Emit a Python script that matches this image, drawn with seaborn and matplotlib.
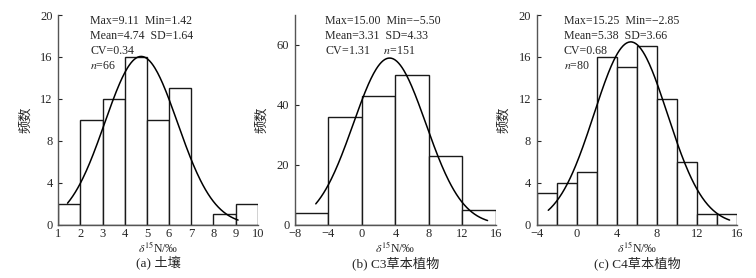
import matplotlib

matplotlib.use("Agg", force=True)
import matplotlib.pyplot as plt
import numpy as np
import pandas as pd
import seaborn as sns

# (a) soil
SOIL_EDGES = [1, 2, 3, 4, 5, 6, 7, 8, 9, 10]
SOIL_COUNTS = [2, 10, 12, 16, 10, 13, 0, 1, 2]
SOIL_STATS = {"max": 9.11, "min": 1.42, "mean": 4.74, "sd": 1.64, "cv": 0.34, "n": 66}

# (b) C3 herbs
C3_EDGES = [-8, -4, 0, 4, 8, 12, 16]
C3_COUNTS = [4, 36, 43, 50, 23, 5]
C3_STATS = {"max": 15.00, "min": -5.50, "mean": 3.31, "sd": 4.33, "cv": 1.31, "n": 151}

# (c) C4 herbs
C4_EDGES = [-4, -2, 0, 2, 4, 6, 8, 10, 12, 14, 16]
C4_COUNTS = [3, 4, 5, 16, 15, 17, 12, 6, 1, 1]
C4_STATS = {"max": 15.25, "min": -2.85, "mean": 5.38, "sd": 3.66, "cv": 0.68, "n": 80}

CAPTIONS = ["(a) 土壤", "(b) C3草本植物", "(c) C4草本植物"]
YTICKS = [[0, 4, 8, 12, 16, 20], [0, 20, 40, 60], [0, 4, 8, 12, 16, 20]]
YLIMS = [(0, 20), (0, 70), (0, 20)]
XTICKS = [list(range(1, 11)), [-8, -4, 0, 4, 8, 12, 16], [-4, 0, 4, 8, 12, 16]]

AX_POS = [
    [0.077, 0.191, 0.264, 0.755],
    [0.390, 0.191, 0.266, 0.755],
    [0.710, 0.191, 0.265, 0.755],
]
TEXT_X = [0.16, 0.15, 0.135]


def fmt(v: float) -> str:
    return f"{v:.2f}".replace("-", "\u2212")


def stat_lines(s: dict, compact: bool) -> list[str]:
    first = f"Max={fmt(s['max'])}  Min={fmt(s['min'])}"
    second = f"Mean={fmt(s['mean'])}  SD={fmt(s['sd'])}"
    if compact:
        return [first, second, f"CV={fmt(s['cv'])}     $n$={s['n']}"]
    return [first, second, f"CV={fmt(s['cv'])}", f"$n$={s['n']}"]


def draw_panel(ax, edges, counts, stats, idx, compact=False):
    edge_arr = np.asarray(edges, dtype=float)
    centers = (edge_arr[:-1] + edge_arr[1:]) / 2
    df = pd.DataFrame({"x": centers, "w": counts})
    sns.histplot(
        data=df, x="x", weights="w", bins=list(edges), stat="count",
        color="white", edgecolor="#1a1a1a", linewidth=1.0, alpha=1.0, ax=ax,
    )
    width = edges[1] - edges[0]
    xs = np.linspace(stats["min"], stats["max"], 200)
    ys = stats["n"] * width / (stats["sd"] * np.sqrt(2 * np.pi)) * np.exp(
        -0.5 * ((xs - stats["mean"]) / stats["sd"]) ** 2
    )
    sns.lineplot(x=xs, y=ys, color="black", linewidth=1.1, ax=ax)

    ax.set_xlim(edges[0], edges[-1])
    ax.set_ylim(*YLIMS[idx])
    ax.set_xticks(XTICKS[idx])
    ax.set_yticks(YTICKS[idx])
    ax.tick_params(axis="x", length=0, pad=2, labelsize=9)
    ax.tick_params(axis="y", direction="in", length=3, width=0.8, labelsize=9, pad=4)
    ax.set_xticklabels([str(t).replace("-", "\u2212") for t in XTICKS[idx]])
    ax.set_xlabel(r"$\delta^{15}$N/‰", fontsize=8.5, labelpad=0)
    ax.set_ylabel("频数", fontsize=9.5, family=["Noto Sans CJK SC", "Liberation Serif"], labelpad=6)
    ax.text(0.5, -0.183, CAPTIONS[idx], transform=ax.transAxes, ha="center", va="center",
            fontsize=9.5, family=["Liberation Serif", "Noto Sans CJK SC"])
    for k, line in enumerate(stat_lines(stats, compact)):
        ax.text(TEXT_X[idx], 0.998 - k * 0.07, line, transform=ax.transAxes,
                ha="left", va="top", fontsize=8.6)
    for side in ("top", "right"):
        ax.spines[side].set_visible(False)
    for side in ("left", "bottom"):
        ax.spines[side].set_color("#555555")
        ax.spines[side].set_linewidth(1.0)


def main() -> None:
    sns.set_theme(style="ticks")
    plt.rcParams["font.family"] = ["Liberation Serif", "Noto Sans CJK SC"]
    plt.rcParams["mathtext.fontset"] = "stix"
    plt.rcParams["axes.unicode_minus"] = True

    fig = plt.figure(figsize=(7.56, 2.78), dpi=100)
    fig.patch.set_facecolor("white")
    panels = [
        (SOIL_EDGES, SOIL_COUNTS, SOIL_STATS, False),
        (C3_EDGES, C3_COUNTS, C3_STATS, True),
        (C4_EDGES, C4_COUNTS, C4_STATS, False),
    ]
    for idx, (edges, counts, stats, compact) in enumerate(panels):
        ax = fig.add_axes(AX_POS[idx])
        ax.set_facecolor("white")
        draw_panel(ax, edges, counts, stats, idx, compact)
    fig.savefig("out.png", dpi=100, facecolor="white")
    plt.close(fig)


if __name__ == "__main__":
    main()
